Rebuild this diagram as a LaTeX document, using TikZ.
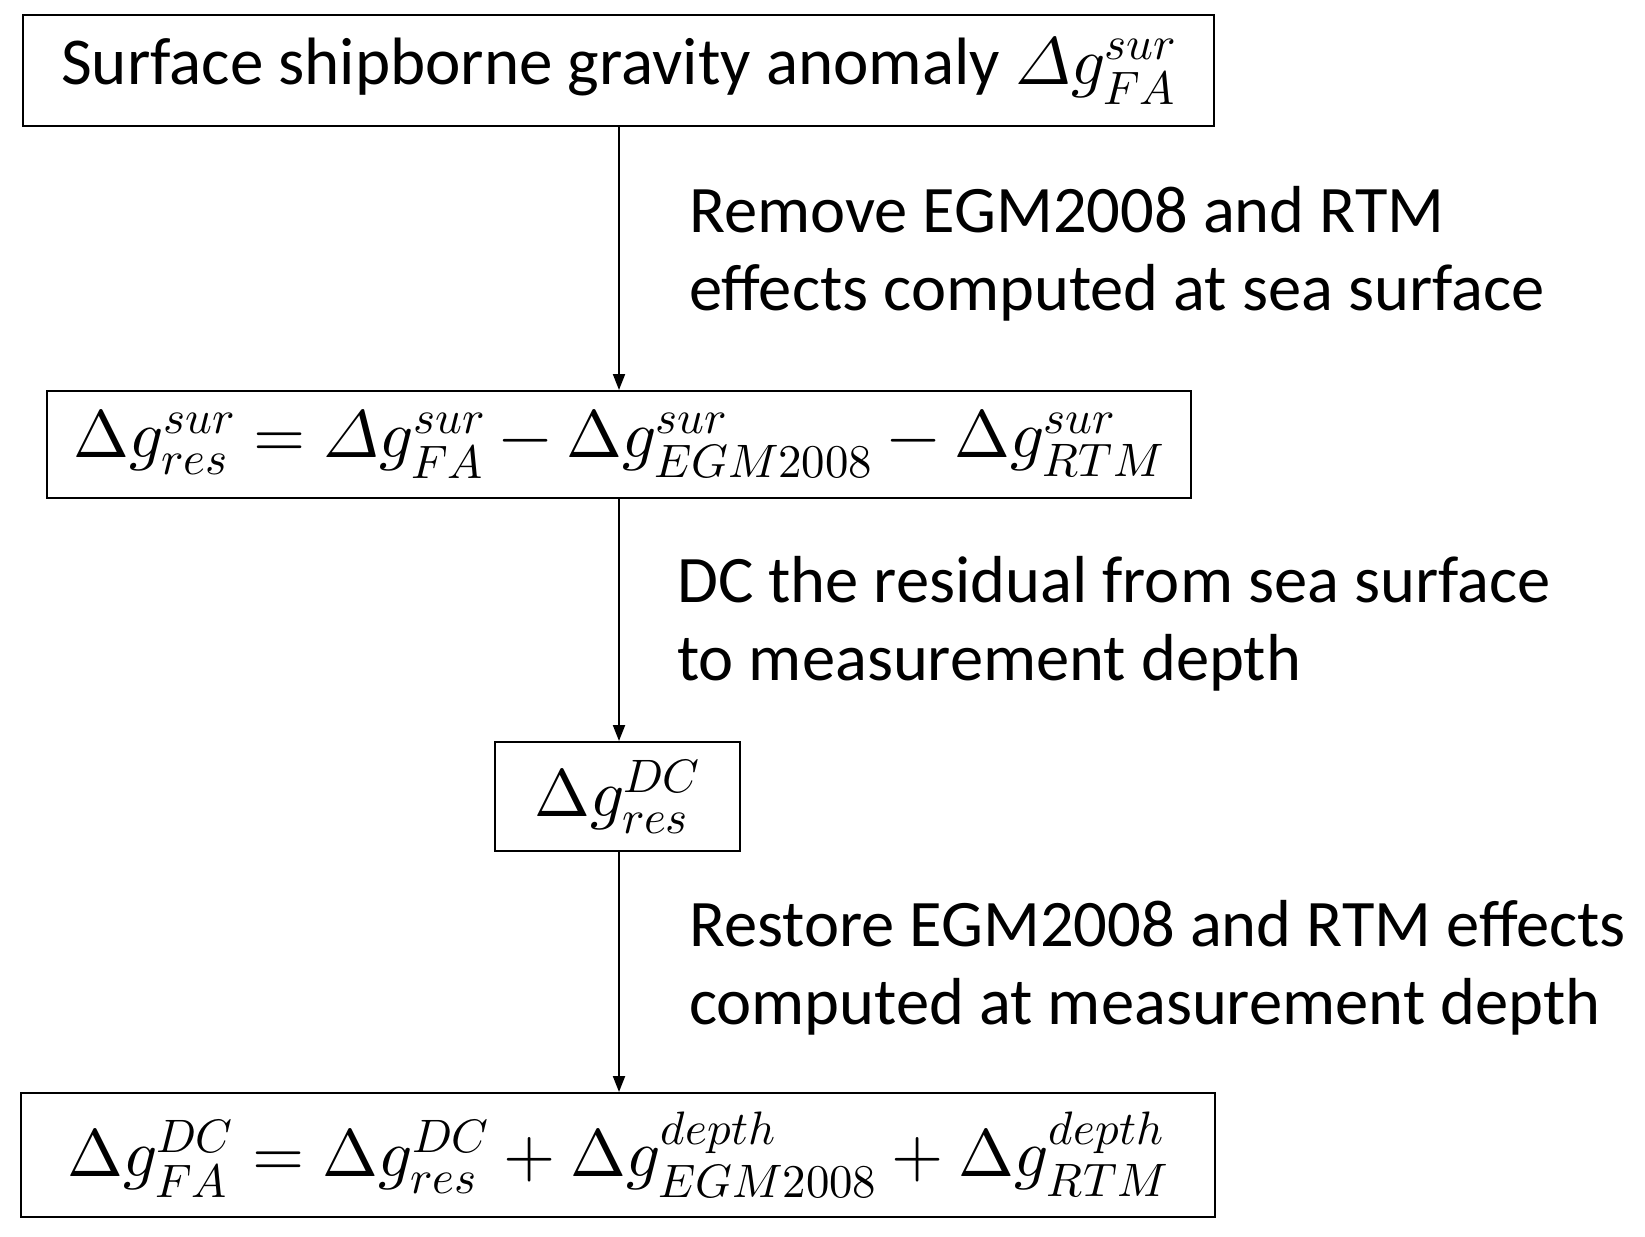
\documentclass[tikz,border=0pt]{standalone}
\usepackage{fontspec}
\usepackage{unicode-math}
\setmainfont{Carlito}
\setmathfont{Latin Modern Math}
\usetikzlibrary{arrows.meta}
\begin{document}
\begin{tikzpicture}[x=1pt,y=-1pt,
  box/.style={draw,line width=2pt,inner sep=0pt,font=\fontsize{67}{78}\selectfont},
  lab/.style={anchor=west,align=left,font=\fontsize{66.5}{78}\selectfont,inner sep=0pt},
  arr/.style={line width=2pt,-{Triangle[length=16pt,width=12pt]}}]
\useasboundingbox (0,0) rectangle (1645,1236);
\node[box,minimum width=1191pt,minimum height=111pt] (b1) at (618.5,70.5) {Surface shipborne gravity anomaly $\symit{\Delta} g^{sur}_{FA}$};
\node[box,minimum width=1144pt,minimum height=107pt] (b2) at (619,444.5) {$\Delta g^{sur}_{res}=\symit{\Delta} g^{sur}_{FA}-\Delta g^{sur}_{EGM2008}-\Delta g^{sur}_{RTM}$};
\node[box,minimum width=245pt,minimum height=109pt] (b3) at (617.5,796.5) {$\Delta g^{DC}_{res}$};
\node[box,minimum width=1194pt,minimum height=124pt] (b4) at (618,1155) {$\Delta g^{DC}_{FA}=\Delta g^{DC}_{res}+\Delta g^{depth}_{EGM2008}+\Delta g^{depth}_{RTM}$};
\draw[arr] (b1.south-|619,0) -- (b2.north-|619,0);
\draw[arr] (b2.south-|619,0) -- (b3.north-|619,0);
\draw[arr] (b3.south-|619,0) -- (b4.north-|619,0);
\node[lab] (l1) at (689,254) {Remove EGM2008 and RTM\\effects computed at sea surface};
\node[lab] (l2) at (677,624) {DC the residual from sea surface\\to measurement depth};
\node[lab] (l3) at (689,968) {Restore EGM2008 and RTM effects\\computed at measurement depth};
\end{tikzpicture}
\end{document}
